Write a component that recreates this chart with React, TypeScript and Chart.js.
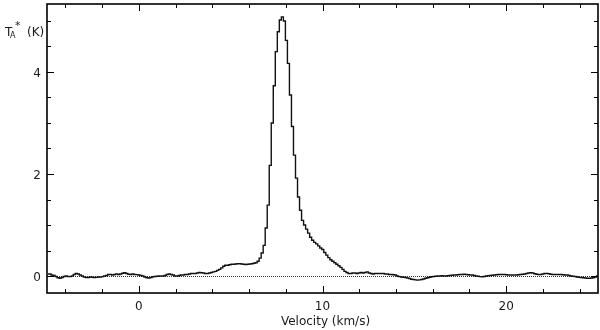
import { useEffect, useRef } from "react";
import { Chart, registerables } from "chart.js";

Chart.register(...registerables);

// Spectrum channels: velocity of first channel edge and channel width (km/s)
const V_START = -5;
const CHANNEL_WIDTH = 0.11;

// Antenna temperature T_A* (K) per channel
const baselineLeft = [
  0.04, 0.04, 0.02, 0.01, -0.01, -0.035, -0.045, -0.03, -0.01, 0.0,
  -0.01, -0.013, 0.0, 0.03, 0.05, 0.04, 0.02, 0.0, -0.02, -0.03,
  -0.03, -0.02, -0.025, -0.03, -0.026, -0.02, -0.02, -0.013, 0.0, 0.01,
  0.03, 0.03, 0.02, 0.03, 0.04, 0.03, 0.04, 0.055, 0.065, 0.05,
  0.035, 0.03, 0.04, 0.03, 0.026, 0.02, 0.01, 0.0, -0.02, -0.035,
  -0.04, -0.03, -0.015, -0.01, -0.005, 0.0, 0.0, 0.0, 0.01, 0.03,
  0.04, 0.03, 0.02, 0.0, 0.0, 0.01, 0.02, 0.02, 0.03, 0.03,
  0.04, 0.05, 0.05, 0.05, 0.06, 0.07, 0.065, 0.06, 0.05, 0.05,
  0.06, 0.07, 0.08, 0.09, 0.11, 0.13, 0.16, 0.19, 0.21, 0.21,
  0.22, 0.23, 0.23, 0.235, 0.24, 0.24, 0.235, 0.23, 0.225, 0.23,
  0.235, 0.24, 0.25,
];

const lineCore = [
  0.26, 0.29, 0.35, 0.45, 0.6, 0.94, 1.39, 2.17, 3.0, 3.73,
  4.4, 4.79, 5.02, 5.08, 5.0, 4.62, 4.17, 3.55, 2.93, 2.37,
  1.92, 1.55, 1.29, 1.09, 1.0, 0.92, 0.84, 0.76, 0.7, 0.66,
  0.63, 0.59, 0.55, 0.52, 0.46, 0.41, 0.36, 0.32, 0.29, 0.26,
  0.23, 0.2, 0.17, 0.13, 0.09, 0.07, 0.05, 0.05, 0.06, 0.06,
  0.05, 0.06, 0.07, 0.06, 0.07, 0.08, 0.06, 0.05, 0.04, 0.05,
  0.05, 0.05,
];

const baselineRight = [
  0.05, 0.05, 0.04, 0.04, 0.03, 0.03, 0.025, 0.02, 0.0, -0.013,
  -0.02, -0.025, -0.03, -0.04, -0.05, -0.065, -0.07, -0.075, -0.08, -0.075,
  -0.07, -0.06, -0.045, -0.035, -0.025, -0.015, -0.01, -0.005, 0.0, 0.0,
  0.005, 0.0, 0.0, 0.005, 0.01, 0.015, 0.02, 0.02, 0.025, 0.03,
  0.03, 0.035, 0.03, 0.025, 0.02, 0.02, 0.01, 0.0, -0.005, -0.013,
  -0.015, -0.01, 0.0, 0.005, 0.01, 0.015, 0.02, 0.025, 0.03, 0.03,
  0.03, 0.03, 0.025, 0.02, 0.02, 0.02, 0.02, 0.02, 0.025, 0.03,
  0.035, 0.04, 0.05, 0.06, 0.065, 0.06, 0.045, 0.035, 0.03, 0.03,
  0.04, 0.05, 0.05, 0.045, 0.035, 0.03, 0.03, 0.03, 0.03, 0.03,
  0.025, 0.02, 0.02, 0.01, 0.0, -0.005, -0.01, -0.02, -0.026, -0.03,
  -0.035, -0.04, -0.045, -0.046, -0.04, -0.035, -0.02, 0.0,
];

// Axes
const X_MIN = -5;
const X_MAX = 25;
const Y_MIN = -1 / 3;
const Y_MAX = 16 / 3;
const X_TICK_LABELS = [0, 10, 20];
const X_MINOR_STEP = 2;
const Y_TICK_LABELS = [0, 2, 4];
const Y_MINOR_STEP = 0.5;
const X_TITLE = "Velocity (km/s)";

const FONT = '"DejaVu Sans", sans-serif';
const TEXT_COLOR = "#1a1a1a";

const framePlugin = {
  id: "frameTicks",
  beforeDatasetsDraw(chart: any) {
    const { ctx, chartArea, scales } = chart;
    const y0 = Math.round(scales.y.getPixelForValue(0)) + 0.5;
    ctx.save();
    ctx.strokeStyle = "#333";
    ctx.lineWidth = 1;
    ctx.setLineDash([1, 1]);
    ctx.beginPath();
    ctx.moveTo(chartArea.left, y0);
    ctx.lineTo(chartArea.right, y0);
    ctx.stroke();
    ctx.restore();
  },
  afterDatasetsDraw(chart: any) {
    const { ctx, chartArea, scales } = chart;
    const xs = scales.x;
    const ys = scales.y;
    const { left, right, top, bottom } = chartArea;
    ctx.save();
    // frame
    ctx.strokeStyle = "#000";
    ctx.lineWidth = 1.6;
    ctx.strokeRect(left, top, right - left, bottom - top);

    // ticks
    ctx.lineWidth = 1;
    ctx.beginPath();
    const xStart = Math.ceil(X_MIN / X_MINOR_STEP) * X_MINOR_STEP;
    for (let v = xStart; v <= X_MAX + 1e-9; v += X_MINOR_STEP) {
      if (v <= X_MIN || v >= X_MAX) continue;
      const px = Math.round(xs.getPixelForValue(v)) + 0.5;
      const len = X_TICK_LABELS.includes(v) ? 7 : 4;
      ctx.moveTo(px, bottom);
      ctx.lineTo(px, bottom - len);
      ctx.moveTo(px, top);
      ctx.lineTo(px, top + len);
    }
    const yStart = Math.ceil(Y_MIN / Y_MINOR_STEP) * Y_MINOR_STEP;
    for (let v = yStart; v <= Y_MAX + 1e-9; v += Y_MINOR_STEP) {
      const r = Math.round(v * 100) / 100;
      const py = Math.round(ys.getPixelForValue(r)) + 0.5;
      const len = Y_TICK_LABELS.includes(r) ? 7 : 4;
      ctx.moveTo(left, py);
      ctx.lineTo(left + len, py);
      ctx.moveTo(right, py);
      ctx.lineTo(right - len, py);
    }
    ctx.stroke();

    // tick labels
    ctx.fillStyle = TEXT_COLOR;
    ctx.font = `12px ${FONT}`;
    ctx.textAlign = "center";
    ctx.textBaseline = "alphabetic";
    X_TICK_LABELS.forEach((v) => {
      ctx.fillText(String(v), xs.getPixelForValue(v), bottom + 17);
    });
    ctx.textAlign = "right";
    Y_TICK_LABELS.forEach((v) => {
      ctx.fillText(String(v), left - 6, ys.getPixelForValue(v) + 4.5);
    });

    // x title
    ctx.textAlign = "center";
    ctx.fillText(X_TITLE, (left + right) / 2 + 3, bottom + 31.5);

    // y title: T_A* (K)
    ctx.textAlign = "left";
    ctx.font = `12px ${FONT}`;
    ctx.fillText("T", 5, 36);
    ctx.font = `8px ${FONT}`;
    ctx.fillText("A", 10, 38);
    ctx.font = `11px ${FONT}`;
    ctx.fillText("*", 15, 29);
    ctx.font = `12px ${FONT}`;
    ctx.fillText("(K)", 27, 36);
    ctx.restore();
  },
};

export default function App() {
  const canvasRef = useRef<HTMLCanvasElement | null>(null);

  useEffect(() => {
    const canvas = canvasRef.current;
    if (!canvas) return;
    const temps = [...baselineLeft, ...lineCore, ...baselineRight];
    const points = temps.map((t, i) => ({
      x: V_START + (i + 0.5) * CHANNEL_WIDTH,
      y: t,
    }));
    const chart = new Chart(canvas, {
      type: "line",
      data: {
        datasets: [
          {
            data: points,
            borderColor: "#111",
            borderWidth: 1.4,
            stepped: "middle",
            pointRadius: 0,
            fill: false,
          },
        ],
      },
      options: {
        responsive: false,
        devicePixelRatio: 1,
        animation: false,
        events: [],
        layout: { padding: { left: 47, right: 2, top: 4, bottom: 37 } },
        plugins: { legend: { display: false }, tooltip: { enabled: false } },
        scales: {
          x: { type: "linear", min: X_MIN, max: X_MAX, display: false },
          y: { type: "linear", min: Y_MIN, max: Y_MAX, display: false },
        },
      },
      plugins: [framePlugin],
    });
    return () => chart.destroy();
  }, []);

  return (
    <div style={{ position: "fixed", left: 0, top: 0, width: 600, height: 330, background: "#fff" }}>
      <canvas ref={canvasRef} width={600} height={330} style={{ display: "block" }} />
    </div>
  );
}
